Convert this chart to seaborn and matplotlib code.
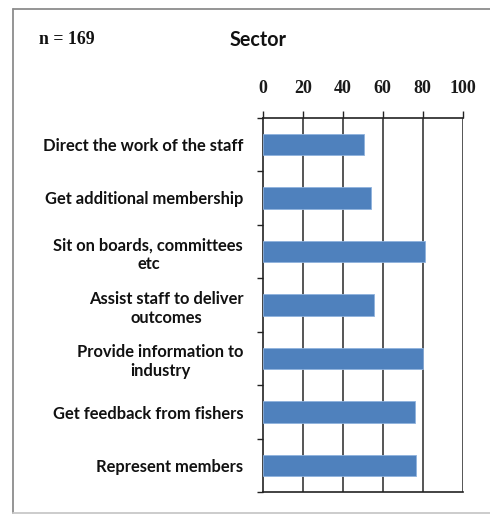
import matplotlib
matplotlib.use("Agg")
import matplotlib.pyplot as plt
import seaborn as sns
import pandas as pd
import numpy as np
from matplotlib.lines import Line2D

# Roles of the sector body, with the share of respondents (%)
categories = [
    "Direct the work of the staff",
    "Get additional membership",
    "Sit on boards, committees\netc",
    "Assist staff to deliver\noutcomes",
    "Provide information to\nindustry",
    "Get feedback from fishers",
    "Represent members",
]
values = [50.6, 54, 81, 55.6, 80, 76, 76.6]
x_ticks = [0, 20, 40, 60, 80, 100]

df = pd.DataFrame({"role": categories, "pct": values})

sns.set_theme(style="white")
plt.rcParams["font.family"] = ["Lato", "DejaVu Sans"]

fig = plt.figure(figsize=(4.9, 5.15), dpi=100)
ax = fig.add_axes([0.5361, 0.0437, 0.4082, 0.7278])

sns.barplot(data=df, y="role", x="pct", orient="h", width=0.4,
            color="#4F81BD", saturation=1, edgecolor="#8FB2DD",
            linewidth=0.6, ax=ax, zorder=3)

ax.set_xlim(0, 100)
ax.set_ylim(len(categories) - 0.5, -0.5)
ax.set_xlabel("")
ax.set_ylabel("")

# value axis on top
ax.xaxis.tick_top()
ax.set_xticks(x_ticks)
ax.set_xticklabels([str(t) for t in x_ticks], fontfamily="Liberation Serif",
                   fontweight="bold", fontsize=13, color="#1a1a1a")
ax.tick_params(axis="x", which="major", direction="out", length=5,
               width=1, color="#222222", pad=10, top=True, bottom=False)

# vertical gridlines
for t in x_ticks[1:]:
    ax.axvline(t, color="#555555", lw=1.4, zorder=1)

# category axis: labels at centres, tick marks at boundaries
ax.set_yticks(range(len(categories)))
ax.set_yticklabels(categories, fontweight="bold", fontsize=11.9,
                   color="#111111", linespacing=1.25, multialignment="center")
ax.tick_params(axis="y", which="major", length=0, pad=14, left=True)
ax.set_yticks(np.arange(-0.5, len(categories), 1), minor=True)
ax.tick_params(axis="y", which="minor", direction="out", length=4,
               width=1, color="#222222", left=True)

for side in ["top", "bottom", "left"]:
    ax.spines[side].set_visible(True)
    ax.spines[side].set_color("#222222")
    ax.spines[side].set_linewidth(1.2)
ax.spines["right"].set_visible(False)

fig.text(39 / 490, 1 - 39 / 515, "n = 169", fontfamily="Liberation Serif",
         fontweight="bold", fontsize=12.8, ha="left", va="center",
         color="#111111")
fig.text(258 / 490, 1 - 40 / 515, "Sector", fontweight="bold", fontsize=14.2,
         ha="center", va="center", color="#111111")

# chart frame: left, top and bottom edges (right edge runs off the canvas)
x0, y_top, y_bot = 13 / 490, 1 - 9 / 515, 1 - 513 / 515
for xs, ys, col in [([x0, x0], [y_bot, y_top], "#8c8c8c"),
                    ([x0, 1.0], [y_top, y_top], "#8c8c8c"),
                    ([x0, 1.0], [y_bot, y_bot], "#c8c8c8")]:
    fig.add_artist(Line2D(xs, ys, transform=fig.transFigure,
                          color=col, lw=1.3))

fig.savefig("out.png", dpi=100)
